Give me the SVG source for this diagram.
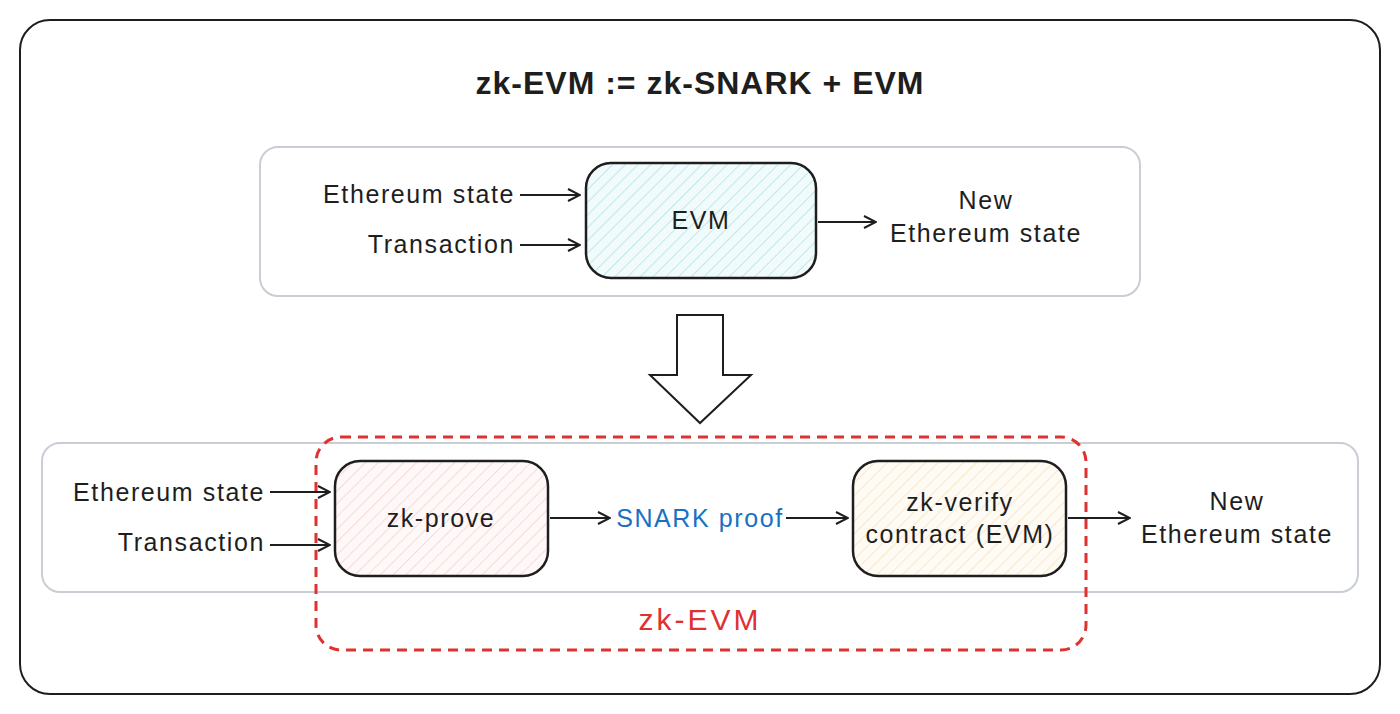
<svg xmlns="http://www.w3.org/2000/svg" width="1400" height="714" viewBox="0 0 1400 714">
<style>
text{font-family:"Liberation Sans","DejaVu Sans",sans-serif;fill:#1e1e1e;font-size:25px;letter-spacing:1.6px}
.node{stroke:#1e1e1e;stroke-width:2.5}
.panel{fill:#fff;stroke:#c9cdd4;stroke-width:2}
.conn line{stroke:#1e1e1e;stroke-width:2;marker-end:url(#ah)}
</style>
<defs>
<marker id="ah" viewBox="0 0 14 14" refX="13" refY="7" markerWidth="14" markerHeight="14" markerUnits="userSpaceOnUse" orient="auto"><path d="M1 1 L13 7 L1 13" fill="none" stroke="#1e1e1e" stroke-width="2"/></marker>
<pattern id="hc" width="9" height="9" patternUnits="userSpaceOnUse" patternTransform="rotate(45)"><rect width="9" height="9" fill="#f2fbfb"/><line x1="0" y1="0" x2="0" y2="9" stroke="#bfe8ec" stroke-width="2"/></pattern>
<pattern id="hp" width="9" height="9" patternUnits="userSpaceOnUse" patternTransform="rotate(45)"><rect width="9" height="9" fill="#fef8f8"/><line x1="0" y1="0" x2="0" y2="9" stroke="#f8dada" stroke-width="2"/></pattern>
<pattern id="ho" width="9" height="9" patternUnits="userSpaceOnUse" patternTransform="rotate(45)"><rect width="9" height="9" fill="#fefbf5"/><line x1="0" y1="0" x2="0" y2="9" stroke="#f8e8cc" stroke-width="2"/></pattern>
</defs>
<rect x="20" y="20" width="1360" height="674" rx="30" fill="#fff" stroke="#1e1e1e" stroke-width="2"/>
<text x="700" y="94" text-anchor="middle" font-weight="bold" style="font-size:32px;letter-spacing:1px">zk-EVM := zk-SNARK + EVM</text>
<g id="top-panel"><rect class="panel" x="260" y="147" width="880" height="149" rx="18"/></g>
<g id="bottom-panel"><rect class="panel" x="42" y="443" width="1316" height="149" rx="18"/></g>
<g id="evm"><rect class="node" x="586" y="163" width="230" height="115" rx="25" fill="url(#hc)"/><text x="701" y="229" text-anchor="middle">EVM</text></g>
<g id="zk-prove"><rect class="node" x="335" y="461" width="213" height="115" rx="25" fill="url(#hp)"/><text x="441" y="527" text-anchor="middle">zk-prove</text></g>
<g id="zk-verify"><rect class="node" x="853" y="461" width="213" height="115" rx="25" fill="url(#ho)"/><text x="960" y="511" text-anchor="middle">zk-verify</text><text x="960" y="543" text-anchor="middle">contract (EVM)</text></g>
<g id="zk-evm"><rect x="316" y="437" width="770" height="213" rx="25" fill="none" stroke="#e03131" stroke-width="3" stroke-dasharray="10 7"/><text x="700" y="630" text-anchor="middle" style="fill:#e03131;font-size:30px;letter-spacing:3px">zk-EVM</text></g>
<g id="labels">
<text x="515" y="203" text-anchor="end">Ethereum state</text>
<text x="515" y="253" text-anchor="end">Transaction</text>
<text x="986" y="209" text-anchor="middle">New</text>
<text x="986" y="242" text-anchor="middle">Ethereum state</text>
<text x="265" y="501" text-anchor="end">Ethereum state</text>
<text x="265" y="551" text-anchor="end">Transaction</text>
<text x="700" y="527" text-anchor="middle" style="fill:#1971c2">SNARK proof</text>
<text x="1237" y="510" text-anchor="middle">New</text>
<text x="1237" y="543" text-anchor="middle">Ethereum state</text>
</g>
<g class="conn" id="connectors">
<line x1="520" y1="195" x2="580" y2="195"/>
<line x1="520" y1="245" x2="580" y2="245"/>
<line x1="818" y1="222" x2="876" y2="222"/>
<line x1="270" y1="492" x2="330" y2="492"/>
<line x1="270" y1="545" x2="330" y2="545"/>
<line x1="550" y1="518" x2="610" y2="518"/>
<line x1="786" y1="518" x2="848" y2="518"/>
<line x1="1068" y1="518" x2="1130" y2="518"/>
<path d="M677 315 H723 V375 H751 L700 423 L650 375 H677 Z" fill="#fff" stroke="#1e1e1e" stroke-width="2"/>
</g>
</svg>
